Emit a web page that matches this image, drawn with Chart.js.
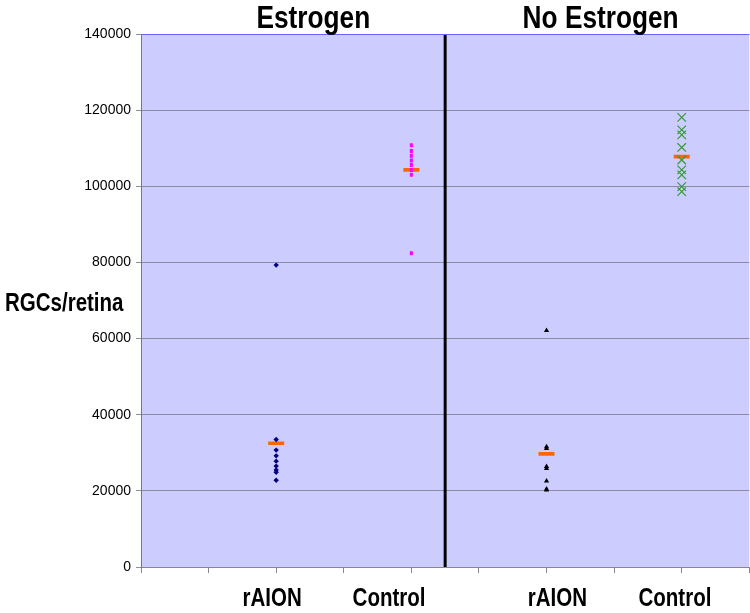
<!DOCTYPE html>
<html>
<head>
<meta charset="utf-8">
<script src="https://cdn.jsdelivr.net/npm/chart.js@4"></script>
<style>
  body { margin: 0; background: #fff; overflow: hidden; }
  #wrap { width: 750px; height: 613px; position: relative; overflow: hidden; }
</style>
</head>
<body>
<div id="wrap"><canvas id="rgcChart" width="761" height="613"></canvas></div>
<script>
// x position of each group, and the values
const groupX = [2, 4, 6, 8];
const estRaion = [79300, 33500, 30700, 29200, 27800, 26500, 25500, 24900, 22800];
const estControl = [110800, 109300, 108000, 106800, 105600, 104300, 103000, 82400];
const noEstRaion = [62100, 31600, 31100, 26400, 25900, 22600, 20500, 20200];
const noEstControl = [118100, 114800, 113500, 110200, 106900, 104300, 103000, 99900, 98600];
const medians = [32500, 104300, 29700, 107800];

const groupLabels = ['rAION', 'Control', 'rAION', 'Control'];
const groupLabelX = [1.94, 3.67, 6.16, 7.9];
const panelTitles = ['Estrogen', 'No Estrogen'];
const panelTitleX = [2.55, 6.8];
const dividerX = 4.5;
const yTitle = 'RGCs/retina';

const boldFont = "'Liberation Sans', Arial, sans-serif";

const pts = (x, vals) => vals.map(v => ({ x: x, y: v }));

// Excel-like narrow bold text: squeeze horizontally
const narrowText = (ctx, text, x, y, size, align) => {
    ctx.save();
    ctx.font = 'bold ' + size + 'px ' + boldFont;
    ctx.textAlign = align;
    ctx.translate(x, y);
    ctx.scale(0.82, 1);
    ctx.fillText(text, 0, 0);
    ctx.restore();
};

const chartDecor = {
    id: 'chartDecor',
    beforeDraw(chart) {
        const { ctx, chartArea: a } = chart;
        ctx.save();
        ctx.fillStyle = '#CCCCFF';
        ctx.fillRect(a.left, a.top, a.right - a.left, a.bottom - a.top);
        ctx.restore();
    },
    afterDraw(chart) {
        const { ctx, chartArea: a } = chart;
        const xs = chart.scales.x;
        ctx.save();
        // plot border, left and top
        ctx.strokeStyle = '#6666FF';
        ctx.lineWidth = 1;
        ctx.beginPath();
        ctx.moveTo(a.left + 0.5, a.bottom);
        ctx.lineTo(a.left + 0.5, a.top + 0.5);
        ctx.lineTo(a.right, a.top + 0.5);
        ctx.stroke();

        ctx.fillStyle = '#000';
        ctx.textBaseline = 'alphabetic';
        panelTitles.forEach((t, i) => narrowText(ctx, t, xs.getPixelForValue(panelTitleX[i]), 28, 32, 'center'));
        groupLabels.forEach((t, i) => narrowText(ctx, t, xs.getPixelForValue(groupLabelX[i]), 606, 25, 'center'));
        narrowText(ctx, yTitle, 5, 311, 25, 'left');
        ctx.restore();
    }
};

new Chart(document.getElementById('rgcChart'), {
    type: 'scatter',
    data: {
        datasets: [
            {
                data: [{ x: dividerX, y: 0 }, { x: dividerX, y: 140000 }],
                showLine: true,
                borderColor: '#000',
                borderWidth: 3,
                pointRadius: 0
            },
            {
                data: pts(groupX[0], estRaion),
                pointStyle: 'rectRot',
                pointRadius: 2.7,
                backgroundColor: '#000080',
                borderColor: '#000080',
                borderWidth: 0
            },
            {
                data: pts(groupX[1], estControl),
                pointStyle: 'line',
                rotation: 90,
                pointRadius: 2,
                borderColor: '#FF00FF',
                borderWidth: 3
            },
            {
                data: pts(groupX[2], noEstRaion),
                pointStyle: 'triangle',
                pointRadius: 3,
                backgroundColor: '#000',
                borderColor: '#000',
                borderWidth: 0
            },
            {
                data: pts(groupX[3], noEstControl),
                pointStyle: 'crossRot',
                pointRadius: 6,
                backgroundColor: '#339933',
                borderColor: '#339933',
                borderWidth: 1.2
            },
            {
                data: groupX.map((x, i) => ({ x: x, y: medians[i] })),
                pointStyle: 'line',
                pointRadius: 8,
                borderColor: '#FF6600',
                borderWidth: 3.7
            }
        ]
    },
    options: {
        responsive: false,
        animation: false,
        layout: { padding: { top: 34, right: 1, left: 0, bottom: 0 } },
        plugins: {
            legend: { display: false },
            tooltip: { enabled: false }
        },
        scales: {
            x: {
                type: 'linear',
                min: 0,
                max: 9,
                ticks: { stepSize: 1, display: false },
                grid: { drawOnChartArea: false, drawTicks: true, tickLength: 6, color: '#888' },
                border: { color: '#888' },
                afterFit: s => { s.height = 46; }
            },
            y: {
                min: 0,
                max: 140000,
                ticks: {
                    stepSize: 20000,
                    color: '#000',
                    padding: 5,
                    font: { family: "'Liberation Sans', Arial, sans-serif", size: 14 },
                    callback: v => String(v)
                },
                grid: { color: '#8C8CA0', tickLength: 5 },
                border: { color: '#6666FF' },
                afterFit: s => { s.width = 141; }
            }
        }
    },
    plugins: [chartDecor]
});
</script>
</body>
</html>
